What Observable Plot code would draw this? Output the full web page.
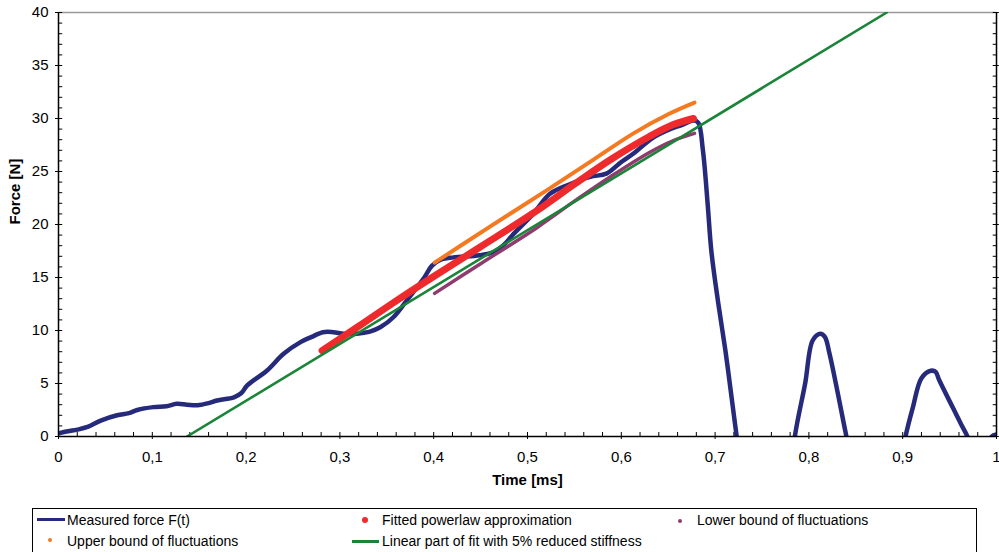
<!DOCTYPE html>
<html><head><meta charset="utf-8">
<script src="https://cdn.jsdelivr.net/npm/d3@7"></script>
<script src="https://cdn.jsdelivr.net/npm/@observablehq/plot@0.6"></script>
<style>
body{margin:0;background:#fff;font-family:"Liberation Sans",Arial,sans-serif;}
#wrap{position:relative;width:999px;height:552px;overflow:hidden;background:#fff;}
#legend{position:absolute;left:32px;top:508px;width:945px;height:46px;border:1px solid #000;box-sizing:border-box;}
.li{position:absolute;font-size:14px;line-height:16px;white-space:nowrap;color:#000;}
.mk{position:absolute;}
</style></head><body><div id="wrap"></div>
<script>
// ---- data ----
const measuredTime = [0,0.01,0.02,0.031,0.045,0.0625,0.075,0.084,0.101,0.115,0.126,0.137,0.148,0.16,0.169,0.187,0.195,0.201,0.222,0.24,0.258,0.27,0.282,0.293,0.304,0.318,0.332,0.343,0.357,0.371,0.378,0.39,0.398,0.408,0.421,0.449,0.464,0.475,0.485,0.506,0.524,0.545,0.567,0.584,0.6,0.613,0.634,0.652,0.665,0.677,0.682,0.687,0.692,0.696,0.703,0.711,0.718,0.723,0.735,0.76,0.775,0.785,0.796,0.804,0.812,0.817,0.822,0.831,0.84,0.855,0.88,0.895,0.903,0.911,0.92,0.93,0.935,0.939,0.953,0.962,0.969,0.98,0.99,0.995,1.0];
const measuredForce = [0.3,0.5,0.65,0.9,1.5,2.0,2.2,2.5,2.77,2.85,3.08,3.0,2.95,3.15,3.4,3.7,4.1,4.8,6.2,7.8,8.9,9.4,9.84,9.84,9.7,9.7,9.9,10.3,11.25,12.8,13.6,15.0,16.1,16.7,16.9,17.1,17.4,18.1,19.1,21.0,22.9,23.8,24.5,24.8,25.9,26.7,28.2,29.0,29.4,29.8,29.6,27.0,22.0,17.5,12.8,8.1,3.4,0,-8,-15,-8,0,5.0,9.06,9.7,9.4,7.8,4.0,0,-6,-8,-4,0,2.8,5.5,6.2,6.1,5.3,2.8,1.2,0,-3,-1.5,0,0.2];

const fitTime  = [0.281,0.32,0.36,0.40,0.45,0.51,0.55,0.59,0.63,0.655,0.677];
const fitForce = [8.1,10.4,12.8,15.1,17.9,21.3,23.8,26.2,28.3,29.4,30.0];

const upperTime  = [0.401,0.46,0.52,0.57,0.613,0.65,0.678];
const upperForce = [16.4,19.8,23.2,26.1,28.6,30.4,31.5];

const lowerTime  = [0.401,0.45,0.51,0.55,0.59,0.63,0.655,0.678];
const lowerForce = [13.5,16.3,19.7,22.2,24.6,26.8,27.9,28.6];

const linearTime  = [0.137,0.883];
const linearForce = [0,40];

const xTickValues = [0,0.1,0.2,0.3,0.4,0.5,0.6,0.7,0.8,0.9,1];
const xTickLabels = ["0","0,1","0,2","0,3","0,4","0,5","0,6","0,7","0,8","0,9","1"];
const yTickValues = [0,5,10,15,20,25,30,35,40];

const legendItems = [
  "Measured force F(t)",
  "Fitted powerlaw approximation",
  "Lower bound of fluctuations",
  "Upper bound of fluctuations",
  "Linear part of fit with 5% reduced stiffness"
];

// ---- colors ----
const C = {navy:"#262a7a", red:"#ee2a2c", orange:"#f47a22", purple:"#8e3b6e", green:"#1a8438"};

const zip = (t, f) => t.map((x, i) => ({t: x, f: f[i]}));
const measured = zip(measuredTime, measuredForce);
const fit = zip(fitTime, fitForce);
const upper = zip(upperTime, upperForce);
const lower = zip(lowerTime, lowerForce);
const linear = zip(linearTime, linearForce);

const xMinor = d3.range(0, 1.0001, 0.02);
const yMinor = d3.range(0, 40.0001, 1);
const lbl = new Map(xTickValues.map((v, i) => [v, xTickLabels[i]]));

const chart = Plot.plot({
  width: 999, height: 506,
  marginLeft: 58, marginRight: 3, marginTop: 12, marginBottom: 70,
  style: {fontFamily: "'Liberation Sans', Arial, sans-serif", fontSize: "15px", color: "#000", background: "#fff", overflow: "visible"},
  x: {domain: [0, 1]},
  y: {domain: [0, 40]},
  marks: [
    // frame
    Plot.ruleY([40], {stroke: "#9a9a9a", strokeWidth: 1.5}),
    // inward ticks
    Plot.ruleX(xMinor, {x: d => d, y1: 0, y2: 0.38, stroke: "#000"}),
    Plot.ruleY(yMinor, {y: d => d, x1: 0, x2: 0.0045, stroke: "#000"}),
    Plot.ruleY(yMinor, {y: d => d, x1: 0.9965, x2: 1, stroke: "#000"}),
    Plot.ruleY(yTickValues, {y: d => d, x1: 1, x2: 1.003, stroke: "#000"}),
    // data
    Plot.line(measured, {x: "t", y: "f", stroke: C.navy, strokeWidth: 4.5, clip: true, curve: "catmull-rom"}),
    Plot.line(fit, {x: "t", y: "f", stroke: C.red, strokeWidth: 7, strokeLinecap: "round", curve: "catmull-rom"}),
    Plot.line(lower, {x: "t", y: "f", stroke: C.purple, strokeWidth: 3.5, strokeLinecap: "round", curve: "catmull-rom"}),
    Plot.line(upper, {x: "t", y: "f", stroke: C.orange, strokeWidth: 4, strokeLinecap: "round", curve: "catmull-rom"}),
    Plot.line(linear, {x: "t", y: "f", stroke: C.green, strokeWidth: 2.6, clip: true}),
    // axes lines
    Plot.ruleX([0], {stroke: "#000", strokeWidth: 1.5}),
    Plot.ruleX([1], {stroke: "#000", strokeWidth: 1.5}),
    Plot.ruleY([0], {stroke: "#000", strokeWidth: 1.5}),
    Plot.axisX({ticks: xTickValues, tickSize: 3, tickPadding: 12, tickFormat: d => lbl.get(d) ?? "", label: null, fontSize: 15}),
    Plot.axisY({ticks: yTickValues, tickSize: 3, tickPadding: 7, tickFormat: d => String(d), label: null, fontSize: 15}),
    Plot.text(["Time [ms]"], {frameAnchor: "bottom", dy: 48, fontWeight: "bold", fontSize: 15}),
    Plot.text(["Force [N]"], {frameAnchor: "left", dx: -43, rotate: -90, fontWeight: "bold", fontSize: 15})
  ]
});

const wrap = document.getElementById("wrap");
wrap.appendChild(chart);

// ---- legend ----
const legend = document.createElement("div");
legend.id = "legend";
wrap.appendChild(legend);
function add(html){ const d = document.createElement("div"); d.innerHTML = html; wrap.appendChild(d.firstElementChild); }
// markers
add(`<div class="mk" style="left:37px;top:518px;width:28px;height:3px;background:${C.navy}"></div>`);
add(`<div class="mk" style="left:362px;top:517px;width:6px;height:6px;border-radius:50%;background:${C.red}"></div>`);
add(`<div class="mk" style="left:678px;top:519px;width:4px;height:4px;border-radius:50%;background:${C.purple}"></div>`);
add(`<div class="mk" style="left:48px;top:538px;width:4px;height:4px;border-radius:50%;background:${C.orange}"></div>`);
add(`<div class="mk" style="left:352px;top:540px;width:27px;height:3px;background:${C.green}"></div>`);
// texts
const pos = [[67,512],[382,512],[697,512],[67,533],[382,533]];
legendItems.forEach((t, i) => add(`<div class="li" style="left:${pos[i][0]}px;top:${pos[i][1]}px">${t}</div>`));
</script>
</body></html>
